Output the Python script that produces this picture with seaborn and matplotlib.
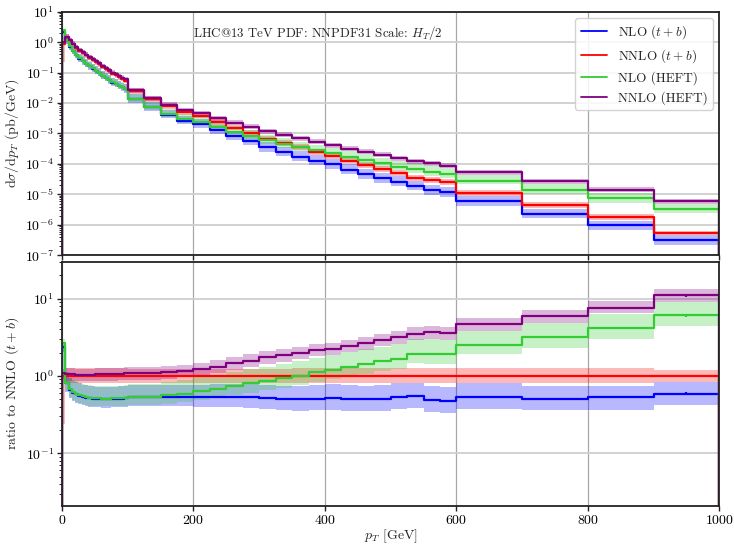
import numpy as np
import matplotlib
matplotlib.use("Agg")
import matplotlib.pyplot as plt
import seaborn as sns
from matplotlib.lines import Line2D
from matplotlib.ticker import LogLocator, NullFormatter

# ---------------- data ----------------
bin_edges = [0, 5, 10, 15, 20, 25, 30, 35, 40, 45, 50, 55, 60, 65, 70, 75, 80, 85, 90, 95, 100,
             125, 150, 175, 200, 225, 250, 275, 300, 325, 350, 375, 400, 425, 450, 475, 500,
             525, 550, 575, 600, 700, 800, 900, 1000]

# NNLO (t+b) differential cross section [pb/GeV]
nnlo_tb = [0.90, 1.43, 1.09, 0.84, 0.65, 0.52, 0.44, 0.37, 0.31, 0.265,
           0.225, 0.19, 0.156, 0.132, 0.112, 0.093, 0.083, 0.072, 0.064, 0.055,
           0.025, 0.0136, 0.0079, 0.0050, 0.0038, 0.0024, 0.00157, 0.00105, 0.00068, 0.00049,
           0.00035, 0.00025, 0.000185, 0.000128, 0.000094, 0.000068, 0.000049, 0.000035, 0.0000287, 0.0000246,
           1.14e-5, 4.5e-6, 1.8e-6, 5.35e-7]

# ratios to NNLO (t+b)
ratio_nlo_tb = [2.4, 0.80, 0.66, 0.61, 0.58, 0.555, 0.537, 0.525, 0.515, 0.51,
                0.505, 0.505, 0.50, 0.50, 0.50, 0.505, 0.505, 0.51, 0.51, 0.515,
                0.53, 0.53, 0.53, 0.53, 0.53, 0.53, 0.53, 0.53, 0.52, 0.50,
                0.50, 0.51, 0.52, 0.51, 0.50, 0.51, 0.54, 0.55, 0.49, 0.47,
                0.54, 0.51, 0.53, 0.59]
ratio_nlo_heft = [2.7, 0.80, 0.67, 0.62, 0.59, 0.565, 0.55, 0.535, 0.525, 0.52,
                  0.515, 0.515, 0.51, 0.51, 0.51, 0.515, 0.515, 0.52, 0.52, 0.525,
                  0.54, 0.54, 0.565, 0.59, 0.64, 0.68, 0.74, 0.80, 0.87, 0.93,
                  1.01, 1.12, 1.20, 1.32, 1.43, 1.54, 1.66, 1.95, 1.93, 1.90,
                  2.50, 3.19, 4.17, 6.1]
ratio_nnlo_heft = [1.10, 1.05, 1.05, 1.05, 1.04, 1.04, 1.04, 1.04, 1.04, 1.04,
                   1.05, 1.05, 1.05, 1.05, 1.06, 1.06, 1.06, 1.07, 1.07, 1.08,
                   1.08, 1.08, 1.12, 1.17, 1.22, 1.32, 1.46, 1.58, 1.75, 1.86,
                   2.00, 2.18, 2.25, 2.46, 2.67, 2.94, 3.16, 3.53, 3.67, 3.60,
                   4.72, 5.93, 7.6, 11.0]

# scale-uncertainty bands (fractional up / down)
nlo_tb_up = [0.15, 0.40, 0.42, 0.43, 0.44, 0.44, 0.44, 0.44, 0.44, 0.44,
             0.44, 0.44, 0.44, 0.44, 0.44, 0.44, 0.44, 0.44, 0.44, 0.44,
             0.45, 0.45, 0.45, 0.46, 0.46, 0.47, 0.47, 0.48, 0.48, 0.49,
             0.50, 0.50, 0.50, 0.50, 0.50, 0.50, 0.48, 0.48, 0.50, 0.52,
             0.48, 0.45, 0.40, 0.42]
nlo_tb_dn = [0.15, 0.22, 0.22, 0.22, 0.22, 0.22, 0.22, 0.22, 0.22, 0.22,
             0.22, 0.22, 0.22, 0.22, 0.22, 0.22, 0.22, 0.22, 0.22, 0.22,
             0.23, 0.23, 0.24, 0.24, 0.25, 0.26, 0.26, 0.27, 0.28, 0.28,
             0.29, 0.29, 0.30, 0.30, 0.30, 0.30, 0.30, 0.30, 0.30, 0.30,
             0.30, 0.29, 0.31, 0.29]
nnlo_tb_up = [0.10, 0.25, 0.25, 0.25, 0.25, 0.25, 0.25, 0.25, 0.25, 0.25,
              0.25, 0.25, 0.25, 0.25, 0.25, 0.25, 0.25, 0.25, 0.25, 0.25,
              0.24, 0.24, 0.24, 0.24, 0.24, 0.24, 0.24, 0.24, 0.24, 0.24,
              0.25, 0.25, 0.25, 0.25, 0.25, 0.25, 0.26, 0.26, 0.26, 0.26,
              0.26, 0.26, 0.26, 0.20]
nnlo_tb_dn = [0.76, 0.18, 0.18, 0.18, 0.18, 0.18, 0.18, 0.18, 0.18, 0.18,
              0.18, 0.18, 0.18, 0.18, 0.18, 0.18, 0.18, 0.18, 0.18, 0.18,
              0.18, 0.18, 0.18, 0.18, 0.18, 0.18, 0.18, 0.18, 0.18, 0.18,
              0.19, 0.19, 0.19, 0.19, 0.19, 0.19, 0.20, 0.20, 0.20, 0.20,
              0.20, 0.20, 0.20, 0.16]
nlo_heft_up = [0.10, 0.40, 0.42, 0.43, 0.44, 0.44, 0.44, 0.44, 0.44, 0.44,
               0.44, 0.44, 0.44, 0.44, 0.44, 0.44, 0.44, 0.44, 0.44, 0.44,
               0.46, 0.47, 0.48, 0.49, 0.50, 0.50, 0.51, 0.52, 0.52, 0.53,
               0.53, 0.53, 0.54, 0.54, 0.54, 0.54, 0.54, 0.54, 0.54, 0.54,
               0.54, 0.52, 0.50, 0.49]
nlo_heft_dn = [0.18, 0.21, 0.21, 0.21, 0.21, 0.21, 0.21, 0.21, 0.21, 0.21,
               0.21, 0.21, 0.21, 0.21, 0.21, 0.21, 0.21, 0.21, 0.21, 0.21,
               0.22, 0.22, 0.23, 0.23, 0.24, 0.24, 0.24, 0.25, 0.25, 0.25,
               0.25, 0.25, 0.25, 0.25, 0.25, 0.25, 0.25, 0.25, 0.25, 0.25,
               0.24, 0.27, 0.29, 0.27]
nnlo_heft_up = [0.12, 0.20, 0.20, 0.20, 0.20, 0.20, 0.20, 0.20, 0.20, 0.20,
                0.20, 0.20, 0.20, 0.20, 0.20, 0.20, 0.20, 0.20, 0.20, 0.20,
                0.20, 0.20, 0.20, 0.20, 0.20, 0.20, 0.20, 0.20, 0.20, 0.20,
                0.20, 0.20, 0.20, 0.20, 0.20, 0.20, 0.20, 0.20, 0.20, 0.20,
                0.20, 0.21, 0.24, 0.20]
nnlo_heft_dn = [0.18, 0.18, 0.18, 0.18, 0.18, 0.18, 0.18, 0.18, 0.18, 0.18,
                0.18, 0.18, 0.18, 0.18, 0.18, 0.18, 0.18, 0.18, 0.18, 0.18,
                0.18, 0.18, 0.18, 0.18, 0.18, 0.18, 0.18, 0.18, 0.18, 0.18,
                0.18, 0.18, 0.18, 0.18, 0.18, 0.18, 0.18, 0.18, 0.18, 0.18,
                0.20, 0.18, 0.14, 0.18]

# relative statistical (MC) errors
stat_rel = [0.01, 0.01, 0.01, 0.01, 0.01, 0.01, 0.01, 0.01, 0.01, 0.01,
            0.01, 0.01, 0.01, 0.01, 0.01, 0.01, 0.01, 0.01, 0.01, 0.01,
            0.01, 0.01, 0.01, 0.01, 0.01, 0.01, 0.012, 0.012, 0.012, 0.012,
            0.014, 0.014, 0.015, 0.015, 0.016, 0.016, 0.018, 0.02, 0.02, 0.02,
            0.015, 0.018, 0.025, 0.04]

labels = ["NLO $(t+b)$", "NNLO $(t+b)$", "NLO (HEFT)", "NNLO (HEFT)"]
colors = ["blue", "red", "#33cc33", "purple"]

# ---------------- style ----------------
sns.set_style("ticks")
plt.rcParams.update({
    "font.family": ["cmr10", "DejaVu Serif"],
    "mathtext.fontset": "cm",
    "axes.formatter.use_mathtext": True,
    "axes.unicode_minus": False,
    "font.size": 10,
    "xtick.direction": "out",
    "ytick.direction": "out",
})

fig = plt.figure(figsize=(7.34, 5.45), dpi=100)
ax1 = fig.add_axes([0.0845, 0.5316, 0.8955, 0.4469])
ax2 = fig.add_axes([0.0845, 0.0721, 0.8955, 0.4477], sharex=ax1)

edges = np.array(bin_edges, dtype=float)
centers = 0.5 * (edges[:-1] + edges[1:])
xs = np.repeat(edges, 2)
ref = np.array(nnlo_tb)
stat = np.array(stat_rel)

abs_vals = [ref * np.array(ratio_nlo_tb), ref, ref * np.array(ratio_nlo_heft), ref * np.array(ratio_nnlo_heft)]
ups = [nlo_tb_up, nnlo_tb_up, nlo_heft_up, nnlo_heft_up]
dns = [nlo_tb_dn, nnlo_tb_dn, nlo_heft_dn, nnlo_heft_dn]

for v, up, dn, color in zip(abs_vals, ups, dns, colors):
    r = v / ref
    hi_a = v * (1 + np.array(up))
    lo_a = v * (1 - np.array(dn))
    for ax, vals, hi, lo in [(ax1, v, hi_a, lo_a), (ax2, r, hi_a / ref, lo_a / ref)]:
        ys = np.concatenate([[0.0], np.repeat(vals, 2), [0.0]])
        sns.lineplot(x=xs, y=ys, ax=ax, color=color, lw=1.6, estimator=None, sort=False, legend=False)
        ax.fill_between(edges, np.append(lo, lo[-1]), np.append(hi, hi[-1]), step="post",
                        color=color, alpha=0.28, lw=0)
        ax.errorbar(centers, vals, yerr=vals * stat, fmt="none", ecolor=color, elinewidth=1.6)

for ax in (ax1, ax2):
    ax.set_yscale("log")
    ax.set_xlim(0, 1000)
    ax.set_axisbelow(True)
    ax.grid(axis="y", which="major", color="#cfcfcf", lw=1.3)
    ax.grid(axis="x", which="major", color="#a8a8a8", lw=0.9)
    ax.yaxis.set_major_locator(LogLocator(base=10, numticks=20))
    ax.yaxis.set_minor_locator(LogLocator(base=10, subs=np.arange(2, 10), numticks=20))
    ax.yaxis.set_minor_formatter(NullFormatter())
    ax.tick_params(which="major", length=3.5, width=1.0, colors="#222222", labelcolor="black",
                   labelsize=10, pad=2.5)
    ax.tick_params(which="minor", length=2.0, width=0.7, colors="#222222")
    for s in ax.spines.values():
        s.set_color("#222222")
        s.set_linewidth(1.3)

ax1.set_ylim(1e-7, 1e1)
ax2.set_ylim(0.021, 30)
ax1.set_xticks([0, 200, 400, 600, 800, 1000])
ax1.tick_params(labelbottom=False)
ax1.set_ylabel(r"$\mathrm{d}\sigma/\mathrm{d}p_T$ (pb/GeV)", labelpad=3)
ax2.set_ylabel(r"ratio to NNLO $(t+b)$", labelpad=3)
ax2.set_xlabel(r"$p_T$ [GeV]", labelpad=0)

ax1.text(0.2, 0.913, r"LHC@13 TeV PDF: NNPDF31 Scale: $H_T/2$", transform=ax1.transAxes,
         fontsize=9.3, va="center", ha="left")

handles = [Line2D([0], [0], color=c, lw=1.3) for c in colors]
leg = ax1.legend(handles, labels, loc="upper right", fontsize=9.5, frameon=True, framealpha=0.85,
                 edgecolor="#cccccc", fancybox=True, labelspacing=0.45, borderpad=0.4)

fig.savefig("out.png", dpi=100)
